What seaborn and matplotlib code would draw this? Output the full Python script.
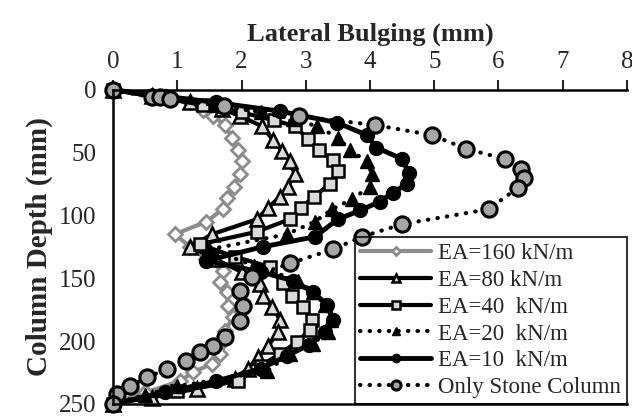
import numpy as np
import pandas as pd
import seaborn as sns
import matplotlib.pyplot as plt

# lateral bulging (mm) vs depth (mm)
d160 = [0, 5, 10, 16, 21, 28, 38, 48, 57, 67, 77, 86, 95, 105, 115, 125, 135, 144, 153, 161, 172, 181, 192, 201, 210, 218, 225, 232, 241, 250]
x160 = [0, 0.6, 1.2, 1.4, 1.56, 1.74, 1.85, 1.94, 2.0, 1.98, 1.88, 1.77, 1.71, 1.45, 0.96, 1.2, 1.45, 1.71, 1.66, 1.77, 1.79, 1.87, 1.74, 1.70, 1.66, 1.54, 1.24, 1.04, 0.5, 0]

d80 = [0, 5, 10, 15, 21, 29, 40, 49, 57, 67, 77, 85, 94, 103, 115, 125, 135, 145, 155, 164, 173, 183, 193, 204, 213, 222, 230, 238, 245, 250]
x80 = [0, 0.6, 1.2, 1.7, 1.98, 2.32, 2.49, 2.63, 2.75, 2.83, 2.72, 2.6, 2.41, 2.24, 1.54, 1.2, 1.6, 2.0, 2.29, 2.33, 2.47, 2.6, 2.57, 2.41, 2.26, 2.1, 1.9, 1.3, 0.6, 0]

d40 = [0, 6, 12, 18, 24, 29, 39, 48, 56, 65, 75, 85, 94, 103, 113, 123, 133, 141, 154, 164, 173, 183, 191, 201, 210, 220, 232, 240, 250]
x40 = [0, 0.7, 1.4, 2.0, 2.5, 2.83, 3.03, 3.2, 3.42, 3.5, 3.37, 3.13, 2.92, 2.75, 2.24, 1.35, 1.9, 2.44, 2.64, 2.78, 2.95, 3.1, 3.06, 2.86, 2.6, 2.3, 1.94, 1.0, 0]

d20 = [0, 6, 12, 18, 23, 29, 38, 48, 57, 67, 77, 87, 95, 105, 115, 127, 140, 152, 161, 171, 183, 193, 202, 210, 224, 236, 243, 250]
x20 = [0, 0.8, 1.6, 2.3, 2.8, 3.17, 3.5, 3.69, 3.95, 4.03, 4.0, 3.72, 3.41, 3.14, 2.7, 1.5, 2.2, 2.88, 3.11, 3.3, 3.4, 3.34, 3.11, 2.75, 2.4, 1.0, 0.5, 0]

d10 = [0, 5, 10, 17, 26, 36, 46, 55, 66, 75, 82, 89, 96, 103, 117, 125, 136, 145, 152, 161, 171, 183, 193, 203, 212, 222, 232, 241, 250]
x10 = [0, 0.8, 1.6, 2.6, 3.48, 3.95, 4.1, 4.5, 4.6, 4.57, 4.35, 4.15, 3.85, 3.5, 3.14, 2.33, 1.45, 2.3, 2.8, 3.11, 3.33, 3.42, 3.3, 3.05, 2.7, 2.3, 1.6, 0.8, 0]

dsc = [0, 6, 6, 7, 13, 21, 28, 36, 47, 55, 63, 70, 78, 95, 107, 117, 127, 138, 149, 160, 172, 184, 197, 204, 209, 216, 222, 229, 236, 242, 250]
xsc = [0, 0.6, 0.73, 0.88, 1.72, 2.9, 4.08, 4.96, 5.5, 6.1, 6.35, 6.4, 6.3, 5.85, 4.5, 3.87, 3.42, 2.76, 2.16, 1.98, 2.02, 1.98, 1.74, 1.56, 1.35, 1.14, 0.84, 0.53, 0.26, 0.06, 0]

labels = ['EA=160 kN/m', 'EA=80 kN/m', 'EA=40  kN/m', 'EA=20  kN/m', 'EA=10  kN/m', 'Only Stone Column']

sns.set_style('white')
plt.rcParams['font.family'] = ['Liberation Serif', 'DejaVu Serif']

fig = plt.figure(figsize=(6.32, 4.18), dpi=100)
ax = fig.add_axes([0.179, 0.034, 0.813, 0.751])

dots = (0, (0.1, 2.2))
styles = [
    dict(color='#8c8c8c', marker='D', mfc='white', mec='#8c8c8c', ms=7, mew=2, lw=3),
    dict(color='black', marker='^', mfc='#d9d9d9', mec='black', ms=10, mew=1.8, lw=3),
    dict(color='black', marker='s', mfc='#d9d9d9', mec='black', ms=9, mew=1.8, lw=3),
    dict(color='black', marker='^', mfc='black', mec='black', ms=10, mew=1, lw=3, ls=dots, dash_capstyle='round'),
    dict(color='black', marker='o', mfc='black', mec='black', ms=10, mew=1, lw=3.5),
    dict(color='black', marker='o', mfc='#a6a6a6', mec='black', ms=11, mew=2.2, lw=3, ls=dots, dash_capstyle='round'),
]
series = [(x160, d160), (x80, d80), (x40, d40), (x20, d20), (x10, d10), (xsc, dsc)]

for (xs, ds), lab, st in zip(series, labels, styles):
    sns.lineplot(x=xs, y=ds, sort=False, estimator=None, ax=ax, label=lab, clip_on=False, **st)

ax.set_xlim(0, 8)
ax.set_ylim(250, 0)
ax.set_xticks(range(0, 9))
ax.set_yticks(range(0, 251, 50))
ax.xaxis.tick_top()
ax.xaxis.set_label_position('top')
ax.set_xlabel('Lateral Bulging (mm)', fontsize=19, fontweight='bold', labelpad=8)
ax.set_ylabel('Column Depth (mm)', fontsize=21, fontweight='bold', labelpad=4)
ax.tick_params(axis='x', direction='out', length=7, width=1.5, labelsize=18, pad=5)
ax.tick_params(axis='y', direction='out', length=6, width=1.5, labelsize=18, pad=6)
for side in ['top', 'left', 'bottom']:
    ax.spines[side].set_linewidth(1.8)
    ax.spines[side].set_color('black')
ax.spines['right'].set_visible(False)

leg = ax.legend(loc='lower right', fontsize=16.5, handlelength=3.1, borderaxespad=0,
                frameon=True, fancybox=False, markerscale=0.6, labelspacing=0.25,
                handletextpad=0.3, borderpad=0.25)
leg.get_frame().set_edgecolor('black')
leg.get_frame().set_facecolor('none')
leg.get_frame().set_linewidth(1.5)

fig.savefig('out.png', dpi=100)
